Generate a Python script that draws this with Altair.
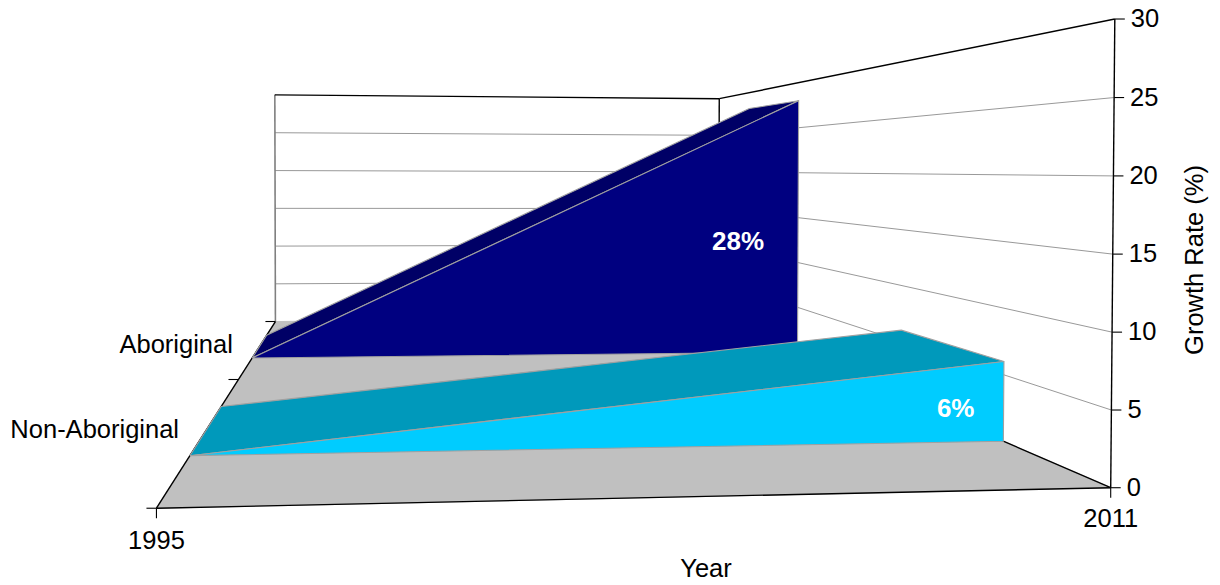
import altair as alt
import numpy as np
import pandas as pd

# Chart values
YEARS = [1995, 2011]
RATE_TICKS = [0, 5, 10, 15, 20, 25, 30]
SERIES = ["Non-Aboriginal", "Aboriginal"]
NON_ABORIGINAL = [0, 6]
ABORIGINAL = [0, 28]
LABELS = ["6%", "28%"]

# Depth bands of the two series on the depth axis (0 front, 1 back)
BANDS = {"Non-Aboriginal": (0.15, 0.35), "Aboriginal": (0.65, 0.85)}
RATE_MAX = 30

# Camera: perspective calibration from the box's corners (u, depth, rate/max) -> page pixels
CORNERS = [
    ((0, 0, 0), (157, 509)), ((1, 0, 0), (1110, 488)), ((0, 1, 0), (275, 321)),
    ((1, 1, 0), (719, 318)), ((0, 1, 1), (275, 95)), ((1, 1, 1), (719, 99)),
    ((1, 0, 1), (1115, 18)),
]
A = []
for (u, d, v), (px, py) in CORNERS:
    A.append([u, d, v, 1, 0, 0, 0, 0, -px * u, -px * d, -px * v, -px])
    A.append([0, 0, 0, 0, u, d, v, 1, -py * u, -py * d, -py * v, -py])
P = np.linalg.svd(np.array(A, float))[2][-1].reshape(3, 4)


def project(year, depth, rate):
    u = (year - YEARS[0]) / (YEARS[1] - YEARS[0])
    h = P @ np.array([u, depth, rate / RATE_MAX, 1.0])
    return float(h[0] / h[2]) - 8, float(h[1] / h[2]) - 8


W, H = 1204, 575
FONT = 25.5
X = alt.X("x:Q", scale=alt.Scale(domain=[0, W], range=[0, W], nice=False, zero=False), axis=None)
Y = alt.Y("y:Q", scale=alt.Scale(domain=[0, H], range=[0, H], nice=False, zero=False), axis=None)
X2 = alt.X2("x2:Q")
Y0, Y1 = YEARS


def table(points):
    rows = [dict(zip(("x", "y"), project(*p)), i=i) for i, p in enumerate(points)]
    return pd.DataFrame(rows)


def poly(points, fill, stroke="#a0a0a0", sw=1.1):
    pts = list(points) + [points[0]]
    return alt.Chart(table(pts)).mark_line(
        fill=fill, stroke=stroke, strokeWidth=sw, interpolate="linear", clip=False
    ).encode(x=X, y=Y, order="i:Q")


def seg(a, b, color, sw=1.0):
    return alt.Chart(table([a, b])).mark_line(color=color, strokeWidth=sw).encode(x=X, y=Y, order="i:Q")


def area3d(name, vals, top_col, front_col):
    d0, d1 = BANDS[name]
    top = poly([(Y0, d0, vals[0]), (Y1, d0, vals[1]), (Y1, d1, vals[1]), (Y0, d1, vals[0])], top_col)
    front = poly([(Y0, d0, vals[0]), (Y1, d0, vals[1]), (Y1, d0, 0), (Y0, d0, 0)], front_col)
    return [top, front]


layers = []
# Floor
layers.append(poly([(Y0, 0, 0), (Y1, 0, 0), (Y1, 1, 0), (Y0, 1, 0)], "#c0c0c0", stroke="#c0c0c0"))
# Gridlines on back and side walls
for r in RATE_TICKS[1:-1]:
    layers.append(seg((Y0, 1, r), (Y1, 1, r), "#999999"))
    layers.append(seg((Y1, 1, r), (Y1, 0, r), "#999999"))
# Box frame
layers.append(seg((Y0, 1, 0), (Y0, 1, RATE_MAX), "#808080", 1.6))
layers.append(seg((Y0, 1, RATE_MAX), (Y1, 1, RATE_MAX), "#000000", 1.4))
layers.append(seg((Y1, 1, 0), (Y1, 1, RATE_MAX), "#000000", 1.4))
layers.append(seg((Y1, 1, RATE_MAX), (Y1, 0, RATE_MAX), "#000000", 1.4))
layers.append(seg((Y1, 0, 0), (Y1, 0, RATE_MAX), "#000000", 1.4))
layers.append(seg((Y0, 0, 0), (Y1, 0, 0), "#000000", 1.4))
layers.append(seg((Y0, 0, 0), (Y0, 1, 0), "#000000", 1.4))
layers.append(seg((Y1, 0, 0), (Y1, 1, 0), "#000000", 1.4))
# Series, back to front
layers += area3d("Aboriginal", ABORIGINAL, "#000066", "#000080")
layers += area3d("Non-Aboriginal", NON_ABORIGINAL, "#0099BB", "#00CCFF")

# Tick marks
rows = []
for r in RATE_TICKS:
    x, y = project(Y1, 0, r)
    rows.append({"x": x, "x2": x + 10, "y": y, "y2": y})
for d in [0, 0.5, 1]:
    x, y = project(Y0, d, 0)
    rows.append({"x": x - 10, "x2": x, "y": y, "y2": y})
for yr in YEARS:
    x, y = project(yr, 0, 0)
    rows.append({"x": x, "x2": x, "y": y, "y2": y + 10})
layers.append(
    alt.Chart(pd.DataFrame(rows)).mark_rule(color="#000000", strokeWidth=1.1).encode(
        x=X, x2=X2, y=Y, y2=alt.Y2("y2:Q")
    )
)


def text_layer(rows, **kw):
    base = dict(font="Liberation Sans", fontSize=FONT, baseline="middle", color="#000000")
    base.update(kw)
    return alt.Chart(pd.DataFrame(rows)).mark_text(**base).encode(x=X, y=Y, text="t:N")


def row(t, p):
    x, y = project(*p)
    return {"x": x, "y": y, "t": t}


layers.append(text_layer([row(str(r), (Y1, 0, r)) for r in RATE_TICKS], align="left", dx=16))
layers.append(text_layer([row(SERIES[0], (Y0, 0.25, 0))], align="right", dx=-28, dy=1))
layers.append(text_layer([row(SERIES[1], (Y0, 0.75, 0))], align="right", dx=-27, dy=-1))
layers.append(text_layer([row(str(YEARS[0]), (Y0, 0, 0))], align="center", dy=33))
layers.append(text_layer([row(str(YEARS[1]), (Y1, 0, 0))], align="center", dy=31))
layers.append(text_layer([row(LABELS[0], (Y1, BANDS["Non-Aboriginal"][0], NON_ABORIGINAL[1] / 2))],
                         align="center", dx=-48, dy=8, color="#ffffff", fontWeight="bold", fontSize=26))
layers.append(text_layer([row(LABELS[1], (Y1, BANDS["Aboriginal"][0], ABORIGINAL[1] / 2))],
                         align="center", dx=-60, dy=15, color="#ffffff", fontWeight="bold", fontSize=26))
# Axis titles
layers.append(alt.Chart(pd.DataFrame({"t": ["Year"]})).mark_text(
    font="Liberation Sans", fontSize=FONT, baseline="middle", align="center", color="#000000"
).encode(x=alt.value(698), y=alt.value(561), text="t:N"))
layers.append(alt.Chart(pd.DataFrame({"t": ["Growth Rate (%)"]})).mark_text(
    font="Liberation Sans", fontSize=FONT, baseline="middle", align="center", angle=270, color="#000000"
).encode(x=alt.value(1187), y=alt.value(252), text="t:N"))

chart = alt.layer(*layers).properties(
    width=W, height=H, padding=0, autosize=alt.AutoSizeParams(type="none")
).configure_view(stroke=None)

chart.save("out.html", embed_options={"renderer": "svg", "actions": False})
